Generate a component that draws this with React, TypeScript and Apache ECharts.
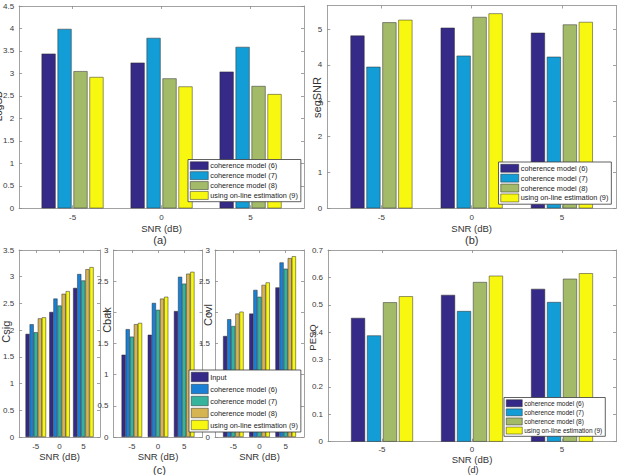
import { useEffect, useRef } from "react";
import * as echarts from "echarts";

// SNR conditions on the x axis of every panel
const snrLevels = [-5, 0, 5];

const methodNames = [
  "coherence model (6)",
  "coherence model (7)",
  "coherence model (8)",
  "using on-line estimation (9)",
];
const methodNamesWithInput = ["Input", ...methodNames];

// (a) log-spectral distance, one list per method, values at -5 / 0 / 5 dB
const lsdModel6 = [3.44, 3.24, 3.04];
const lsdModel7 = [3.99, 3.79, 3.59];
const lsdModel8 = [3.05, 2.89, 2.72];
const lsdOnline = [2.92, 2.71, 2.54];

// (b) segmental SNR
const segModel6 = [4.82, 5.04, 4.9];
const segModel7 = [3.95, 4.26, 4.23];
const segModel8 = [5.19, 5.34, 5.13];
const segOnline = [5.26, 5.44, 5.2];

// (c) composite measures
const csigInput = [1.93, 2.34, 2.79];
const csigModel6 = [2.11, 2.59, 3.05];
const csigModel7 = [1.96, 2.46, 2.93];
const csigModel8 = [2.22, 2.68, 3.14];
const csigOnline = [2.24, 2.73, 3.18];

const cbakInput = [1.32, 1.64, 2.02];
const cbakModel6 = [1.73, 2.15, 2.57];
const cbakModel7 = [1.61, 2.04, 2.46];
const cbakModel8 = [1.81, 2.22, 2.62];
const cbakOnline = [1.83, 2.25, 2.65];

const covlInput = [1.62, 1.98, 2.4];
const covlModel6 = [1.89, 2.36, 2.8];
const covlModel7 = [1.78, 2.25, 2.7];
const covlModel8 = [1.98, 2.44, 2.87];
const covlOnline = [2.01, 2.48, 2.9];

// (d) PESQ improvement
const pesqModel6 = [0.452, 0.536, 0.558];
const pesqModel7 = [0.388, 0.477, 0.51];
const pesqModel8 = [0.509, 0.583, 0.595];
const pesqOnline = [0.531, 0.606, 0.615];

// tick values of the y axes
const ticksA = [0, 0.5, 1, 1.5, 2, 2.5, 3, 3.5, 4, 4.5];
const ticksB = [0, 1, 2, 3, 4, 5];
const ticksC1 = [0, 0.5, 1, 1.5, 2, 2.5, 3, 3.5];
const ticksC23 = [0, 0.5, 1, 1.5, 2, 2.5, 3];
const ticksD = [0, 0.1, 0.2, 0.3, 0.4, 0.5, 0.6, 0.7];

const FONT = "'Liberation Sans', Arial, sans-serif";
const FRAME = "#8a8a8a";
const TICK_TEXT = "#3a3a3a";
const EDGE = "#2a2a2a";

const colors4 = ["#352a87", "#139dd6", "#a3ba69", "#f7f70f"];
const colors5 = ["#352a87", "#1a80d6", "#35b39c", "#d7b452", "#f7f70f"];

type Panel = {
  rect: { left: number; top: number; width: number; height: number };
  xExtent: number;
  yMax: number;
  yTicks: number[];
  values: number[][];
  names: string[];
  colors: string[];
  barWidth: number;
  barGap: string;
  xNameGap: number;
  xLabelMargin: number;
};

const panels: Panel[] = [
  {
    rect: { left: 17.3, top: 6, width: 286.7, height: 202.3 },
    xExtent: 8,
    yMax: 4.5,
    yTicks: ticksA,
    values: [lsdModel6, lsdModel7, lsdModel8, lsdOnline],
    names: methodNames,
    colors: colors4,
    barWidth: 14,
    barGap: "14%",
    xNameGap: 15,
    xLabelMargin: 5,
  },
  {
    rect: { left: 327.3, top: 5.5, width: 288.7, height: 202.8 },
    xExtent: 8,
    yMax: 5.66,
    yTicks: ticksB,
    values: [segModel6, segModel7, segModel8, segOnline],
    names: methodNames,
    colors: colors4,
    barWidth: 14,
    barGap: "14%",
    xNameGap: 15,
    xLabelMargin: 5,
  },
  {
    rect: { left: 12, top: 250, width: 88, height: 187 },
    xExtent: 8.5,
    yMax: 3.5,
    yTicks: ticksC1,
    values: [csigInput, csigModel6, csigModel7, csigModel8, csigOnline],
    names: methodNamesWithInput,
    colors: colors5,
    barWidth: 4.1,
    barGap: "0%",
    xNameGap: 14,
    xLabelMargin: 5,
  },
  {
    rect: { left: 113.5, top: 250, width: 89, height: 187 },
    xExtent: 8.5,
    yMax: 3,
    yTicks: ticksC23,
    values: [cbakInput, cbakModel6, cbakModel7, cbakModel8, cbakOnline],
    names: methodNamesWithInput,
    colors: colors5,
    barWidth: 4.1,
    barGap: "0%",
    xNameGap: 14,
    xLabelMargin: 5,
  },
  {
    rect: { left: 215, top: 250, width: 89, height: 187 },
    xExtent: 8.5,
    yMax: 3,
    yTicks: ticksC23,
    values: [covlInput, covlModel6, covlModel7, covlModel8, covlOnline],
    names: methodNamesWithInput,
    colors: colors5,
    barWidth: 4.1,
    barGap: "0%",
    xNameGap: 14,
    xLabelMargin: 5,
  },
  {
    rect: { left: 328, top: 250, width: 288, height: 191.7 },
    xExtent: 8,
    yMax: 0.7,
    yTicks: ticksD,
    values: [pesqModel6, pesqModel7, pesqModel8, pesqOnline],
    names: methodNames,
    colors: colors4,
    barWidth: 14,
    barGap: "14%",
    xNameGap: 11,
    xLabelMargin: 3.5,
  },
];

function makeLegend(
  names: string[],
  colors: string[],
  pos: { left: number; top: number },
  size: { font: number; itemW: number; itemH: number; gap: number; line: number }
) {
  return {
    orient: "vertical",
    left: pos.left,
    top: pos.top,
    selectedMode: false,
    backgroundColor: "#ffffff",
    borderColor: "#3a3a3a",
    borderWidth: 0.8,
    borderRadius: 0,
    padding: [2, 3, 2, 2],
    itemWidth: size.itemW,
    itemHeight: size.itemH,
    itemGap: size.gap,
    icon: "rect",
    align: "left",
    textStyle: {
      fontFamily: FONT,
      fontSize: size.font,
      lineHeight: size.line,
      color: "#222",
      padding: [0, 0, 0, -3],
    },
    data: names.map((name, k) => ({
      name,
      itemStyle: { color: colors[k], borderColor: EDGE, borderWidth: 0.5 },
    })),
  };
}

function yTitle(text: string, x: number, y: number, size: number) {
  return {
    type: "text",
    x,
    y,
    rotation: Math.PI / 2,
    style: {
      text,
      fontFamily: FONT,
      fontSize: size,
      fill: "#333",
      align: "center",
      verticalAlign: "middle",
    },
  };
}

function caption(text: string, x: number, y: number, size = 11) {
  return {
    type: "text",
    x,
    y,
    style: {
      text,
      fontFamily: FONT,
      fontSize: size,
      fill: "#333",
      align: "center",
      verticalAlign: "middle",
    },
  };
}

function buildOption() {
  const grid: any[] = [];
  const xAxis: any[] = [];
  const yAxis: any[] = [];
  const series: any[] = [];

  panels.forEach((p, i) => {
    grid.push({ ...p.rect, containLabel: false, show: false });

    const xBase = {
      type: "value",
      gridIndex: i,
      min: -p.xExtent,
      max: p.xExtent,
      splitLine: { show: false },
      axisLine: { show: true, onZero: false, lineStyle: { color: FRAME, width: 0.8 } },
      axisTick: {
        show: true,
        inside: true,
        length: 3,
        customValues: snrLevels,
        lineStyle: { color: FRAME, width: 0.8 },
      },
    };
    xAxis.push({
      ...xBase,
      position: "bottom",
      axisLabel: {
        customValues: snrLevels,
        fontFamily: FONT,
        fontSize: 8,
        color: TICK_TEXT,
        margin: p.xLabelMargin,
      },
      name: "SNR (dB)",
      nameLocation: "middle",
      nameGap: p.xNameGap,
      nameTextStyle: { fontFamily: FONT, fontSize: 9.5, color: "#333" },
    });
    xAxis.push({ ...xBase, position: "top", axisLabel: { show: false } });

    const yBase = {
      type: "value",
      gridIndex: i,
      min: 0,
      max: p.yMax,
      splitLine: { show: false },
      axisLine: { show: true, onZero: false, lineStyle: { color: FRAME, width: 0.8 } },
      axisTick: {
        show: true,
        inside: true,
        length: 3,
        customValues: p.yTicks,
        lineStyle: { color: FRAME, width: 0.8 },
      },
    };
    yAxis.push({
      ...yBase,
      position: "left",
      axisLabel: {
        customValues: p.yTicks,
        fontFamily: FONT,
        fontSize: 8,
        color: TICK_TEXT,
        margin: 5,
      },
    });
    yAxis.push({ ...yBase, position: "right", axisLabel: { show: false } });

    p.values.forEach((vals, k) => {
      series.push({
        type: "bar",
        name: p.names[k],
        xAxisIndex: 2 * i,
        yAxisIndex: 2 * i,
        data: snrLevels.map((s, j) => [s, vals[j]]),
        barWidth: p.barWidth,
        barGap: p.barGap,
        silent: true,
        itemStyle: { color: p.colors[k], borderColor: EDGE, borderWidth: 0.5 },
      });
    });
  });

  const legendBig = { font: 7.3, itemW: 18, itemH: 8, gap: 1.4, line: 8 };
  const legend = [
    makeLegend(methodNames, colors4, { left: 188, top: 159.5 }, legendBig),
    makeLegend(methodNames, colors4, { left: 498.5, top: 162 }, legendBig),
    makeLegend(methodNamesWithInput, colors5, { left: 189, top: 370 }, {
      font: 7.3,
      itemW: 17,
      itemH: 9.5,
      gap: 2,
      line: 9.5,
    }),
    makeLegend(methodNames, colors4, { left: 504, top: 397.5 }, {
      font: 6.5,
      itemW: 16,
      itemH: 7,
      gap: 1.6,
      line: 7,
    }),
  ];

  const graphic = [
    yTitle("LogSD", -2, 106, 10),
    yTitle("segSNR", 317, 97.5, 11),
    yTitle("Csig", 6, 331.7, 11),
    yTitle("Cbak", 106.5, 320, 11),
    yTitle("Covl", 207.5, 315, 11),
    yTitle("PESQ", 312.5, 337.5, 9.5),
    caption("(a)", 160, 240),
    caption("(b)", 471.7, 240),
    caption("(c)", 159.5, 469.5),
    caption("(d)", 473, 469.8, 9),
  ];

  return {
    animation: false,
    backgroundColor: "#ffffff",
    textStyle: { fontFamily: FONT },
    grid,
    xAxis,
    yAxis,
    series,
    legend,
    graphic,
  };
}

export default function App() {
  const ref = useRef<HTMLDivElement>(null);

  useEffect(() => {
    if (!ref.current) return;
    const chart = echarts.init(ref.current, null, { renderer: "svg" });
    chart.setOption(buildOption() as any);
    return () => chart.dispose();
  }, []);

  return (
    <div
      ref={ref}
      style={{
        position: "fixed",
        left: 0,
        top: 0,
        width: 619,
        height: 475,
        background: "#ffffff",
      }}
    />
  );
}
